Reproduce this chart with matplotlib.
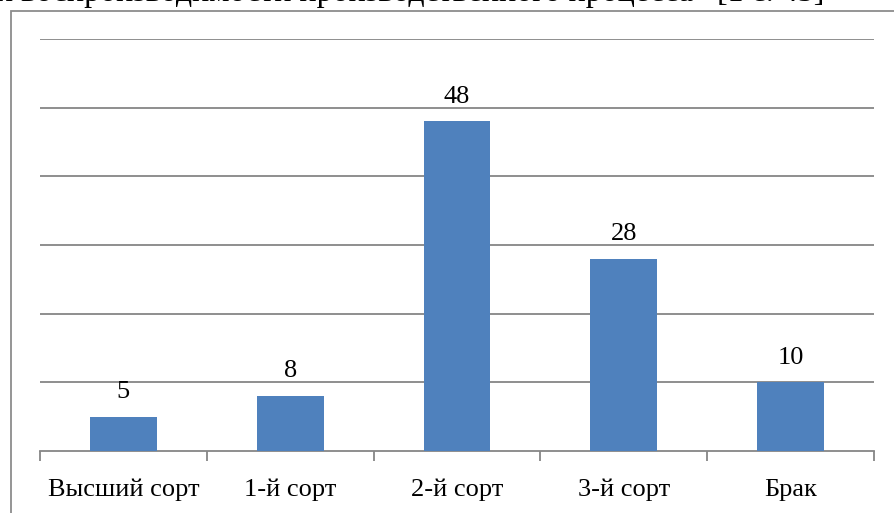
import matplotlib.pyplot as plt
from matplotlib.patches import Rectangle

# data
categories = ['Высший сорт', '1-й сорт', '2-й сорт', '3-й сорт', 'Брак']
values = [5, 8, 48, 28, 10]
top_text = 'и воспроизводимости производственного процесса» [1 с. 45]'

plt.rcParams['font.family'] = ['Liberation Serif', 'DejaVu Serif']

W, H = 895, 513
fig = plt.figure(figsize=(W/100, H/100), dpi=100)

# cut-off line of text above the chart
fig.text(-4/W, 1 - 1.5/H, top_text, fontsize=23, ha='left', va='baseline')

# chart frame
fig.patches.append(Rectangle((11/W, -0.1), 1.2, 1 - 11/H + 0.1, transform=fig.transFigure,
                             fill=False, edgecolor='#8c8c8c', linewidth=1.3))

ax = fig.add_axes([40/W, 1 - 451/H, 834/W, 412/H])
x = range(len(categories))
bars = ax.bar(x, values, width=0.4, color='#4f81bd', zorder=3)

for b, v in zip(bars, values):
    ax.text(b.get_x() + b.get_width()/2, v + 2.0, str(v), ha='center', va='bottom', fontsize=19)

ax.set_xlim(-0.5, 4.5)
ax.set_ylim(0, 60)
ax.set_yticks([10, 20, 30, 40, 50, 60])
ax.yaxis.grid(True, color='#868686', linewidth=1.3, zorder=0)
ax.tick_params(axis='y', left=False, labelleft=False)

ax.set_xticks(list(x))
ax.set_xticklabels(categories, fontsize=19)
ax.set_xticks([-0.5, 0.5, 1.5, 2.5, 3.5, 4.5], minor=True)
ax.tick_params(axis='x', which='major', length=0, pad=20)
ax.tick_params(axis='x', which='minor', length=7, width=1.3, color='#868686', direction='out')

for s in ['left', 'right', 'top']:
    ax.spines[s].set_visible(False)
ax.spines['bottom'].set_color('#868686')
ax.spines['bottom'].set_linewidth(1.3)

fig.savefig('out.png', dpi=100)
